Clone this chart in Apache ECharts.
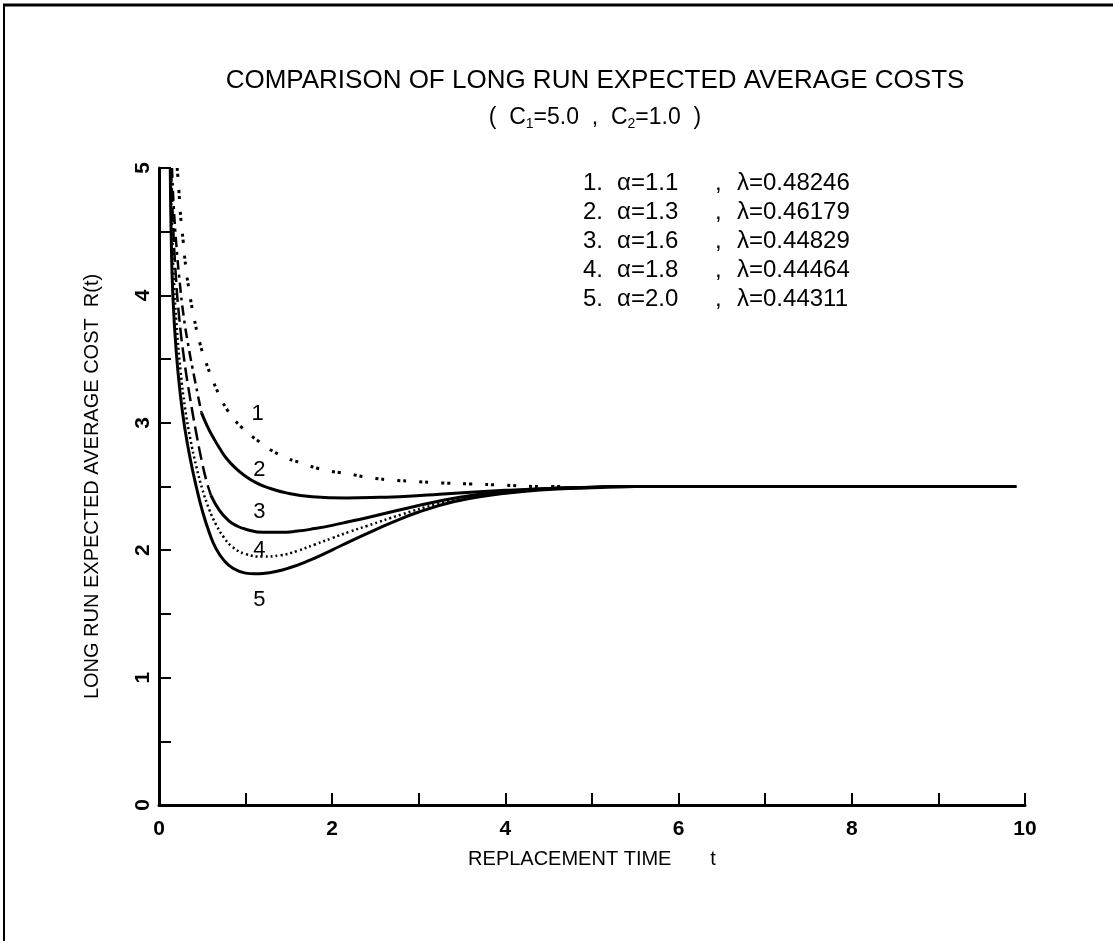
<!DOCTYPE html>
<html>
<head>
<meta charset="utf-8">
<title>Comparison of long run expected average costs</title>
<script src="https://cdn.jsdelivr.net/npm/echarts@6/dist/echarts.min.js"></script>
<style>
  html, body { margin: 0; padding: 0; background: #fff; }
  #chart { width: 1113px; height: 941px; }
</style>
</head>
<body>
<div id="chart"></div>
<script>
// Curve identifiers and Weibull parameters shown in the key
const curveNames = ['1', '2', '3', '4', '5'];
const alphaValues = ['1.1', '1.3', '1.6', '1.8', '2.0'];
const lambdaValues = ['0.48246', '0.46179', '0.44829', '0.44464', '0.44311'];

// R(t) samples, [t, R]
const curve1 = [[0.21,5.0],[0.23,4.82],[0.25,4.62],[0.28,4.42],[0.31,4.22],[0.35,4.03],[0.40,3.84],[0.47,3.63],[0.56,3.44],[0.66,3.27],[0.78,3.11],[0.93,2.98],[1.16,2.85],[1.39,2.75],[1.66,2.68],[1.91,2.63],[2.18,2.60],[2.43,2.57],[2.70,2.55],[2.95,2.54],[3.20,2.53],[3.60,2.52],[4.00,2.51],[4.40,2.50],[4.70,2.50]];
const curve2Steep = [[0.15,5.0],[0.17,4.7],[0.20,4.4],[0.24,4.1],[0.28,3.86],[0.34,3.6],[0.41,3.35],[0.49,3.08]];
const curve2 = [[0.49,3.08],[0.56,2.97],[0.63,2.88],[0.70,2.80],[0.78,2.72],[0.89,2.64],[1.00,2.58],[1.12,2.53],[1.24,2.495],[1.47,2.45],[1.77,2.42],[2.16,2.41],[2.55,2.415],[2.93,2.425],[3.24,2.44],[3.60,2.455],[4.00,2.47],[4.50,2.485],[5.00,2.495],[5.50,2.5],[6.00,2.5],[7.00,2.5],[8.00,2.5],[9.00,2.5],[9.90,2.5]];
const curve3Steep = [[0.14,5.0],[0.16,4.6],[0.19,4.2],[0.23,3.85],[0.29,3.5],[0.36,3.19],[0.43,2.92],[0.50,2.68],[0.55,2.54],[0.60,2.43]];
const curve3 = [[0.60,2.43],[0.70,2.31],[0.80,2.235],[0.90,2.19],[1.00,2.165],[1.20,2.14],[1.40,2.14],[1.60,2.15],[1.80,2.17],[2.00,2.195],[2.20,2.225],[2.40,2.255],[2.80,2.32],[3.20,2.38],[3.60,2.43],[4.00,2.46],[4.50,2.485],[5.00,2.495],[5.50,2.5],[6.00,2.5],[9.90,2.5]];
const curve4 = [[0.13,5.0],[0.15,4.55],[0.17,4.15],[0.20,3.8],[0.25,3.4],[0.30,3.12],[0.36,2.88],[0.43,2.66],[0.50,2.48],[0.58,2.32],[0.66,2.2],[0.75,2.1],[0.85,2.025],[1.00,1.97],[1.20,1.95],[1.40,1.96],[1.60,1.995],[1.80,2.045],[2.00,2.095],[2.20,2.145],[2.40,2.19],[2.80,2.28],[3.20,2.36],[3.60,2.42],[4.00,2.46],[4.50,2.48],[5.00,2.49]];
const curve5 = [[0.13,5.0],[0.14,4.5],[0.16,4.0],[0.20,3.55],[0.25,3.2],[0.30,2.95],[0.36,2.72],[0.43,2.5],[0.50,2.31],[0.58,2.14],[0.66,2.01],[0.75,1.92],[0.85,1.86],[1.00,1.82],[1.10,1.815],[1.20,1.818],[1.35,1.833],[1.50,1.86],[1.70,1.91],[1.90,1.97],[2.10,2.035],[2.40,2.13],[2.70,2.22],[3.00,2.30],[3.40,2.38],[3.80,2.43],[4.20,2.46],[4.60,2.48],[5.00,2.49],[5.50,2.5],[6.00,2.5],[9.90,2.5]];

// Where each curve number is written, [t, R]
const curveTagAt = [[1.14,3.07],[1.16,2.63],[1.16,2.30],[1.16,2.00],[1.16,1.61]];

// Axis tick labels
const xTickLabels = ['0', '2', '4', '6', '8', '10'];
const yTickLabels = ['0', '1', '2', '3', '4', '5'];

const FONT = '"Liberation Sans", Arial, sans-serif';
const INK = '#000';

function curve(data, width, type) {
  return {
    type: 'line',
    data: data,
    showSymbol: false,
    symbol: 'none',
    smooth: 0.5,
    silent: true,
    animation: false,
    lineStyle: { color: INK, width: width, type: type, cap: 'butt', join: 'round' }
  };
}

const keyLines = curveNames.map(function (n, i) {
  return {
    type: 'text',
    left: 583,
    top: 171 + i * 29,
    style: {
      text: '{n|' + n + '.}{a|\u03b1=' + alphaValues[i] + '}{c|,}{l|\u03bb=' + lambdaValues[i] + '}',
      font: '24px ' + FONT,
      fill: INK,
      rich: {
        n: { width: 34, fontSize: 24, fontFamily: FONT, fill: INK },
        a: { width: 98, fontSize: 24, fontFamily: FONT, fill: INK },
        c: { width: 22, fontSize: 24, fontFamily: FONT, fill: INK },
        l: { fontSize: 24, fontFamily: FONT, fill: INK }
      }
    }
  };
});

const chart = echarts.init(document.getElementById('chart'), null, { renderer: 'canvas' });

chart.setOption({
  backgroundColor: '#fff',
  animation: false,
  title: [
    {
      text: 'COMPARISON OF LONG RUN EXPECTED AVERAGE COSTS',
      left: 590,
      top: 63,
      textAlign: 'center',
      textStyle: { fontFamily: FONT, fontSize: 26, fontWeight: 'normal', color: INK }
    },
    {
      text: '{t|(  C}{s|1}{t|=5.0  ,  C}{s|2}{t|=1.0  )}',
      left: 590,
      top: 100,
      textAlign: 'center',
      textStyle: {
        fontFamily: FONT, fontSize: 23, fontWeight: 'normal', color: INK,
        rich: {
          t: { fontFamily: FONT, fontSize: 23, fontWeight: 'normal', color: INK },
          s: { fontFamily: FONT, fontSize: 14, fontWeight: 'normal', color: INK, padding: [12, 0, 0, 0] }
        }
      }
    }
  ],
  grid: { left: 159, right: 88, top: 168, bottom: 136, containLabel: false },
  xAxis: {
    type: 'value',
    min: 0,
    max: 10,
    interval: 1,
    name: 'REPLACEMENT TIME       t',
    nameLocation: 'middle',
    nameGap: 44,
    nameTextStyle: { fontFamily: FONT, fontSize: 20, color: INK },
    axisLine: { lineStyle: { color: INK, width: 3 } },
    axisTick: { inside: true, length: 12, lineStyle: { color: INK, width: 2 } },
    splitLine: { show: false },
    axisLabel: {
      margin: 14,
      fontFamily: FONT,
      fontSize: 21,
      fontWeight: 'bold',
      color: INK,
      formatter: function (v) { return v % 2 === 0 ? xTickLabels[v / 2] : ''; }
    }
  },
  yAxis: {
    type: 'value',
    min: 0,
    max: 5,
    interval: 0.5,
    name: 'LONG RUN EXPECTED AVERAGE COST  R(t)',
    nameLocation: 'middle',
    nameGap: 57,
    nameRotate: 90,
    nameTextStyle: { fontFamily: FONT, fontSize: 20, color: INK },
    axisLine: { lineStyle: { color: INK, width: 3 } },
    axisTick: { inside: true, length: 12, lineStyle: { color: INK, width: 2 } },
    splitLine: { show: false },
    axisLabel: {
      rotate: 90,
      margin: 5,
      fontFamily: FONT,
      fontSize: 21,
      fontWeight: 'bold',
      color: INK,
      formatter: function (v) { return v % 1 === 0 ? yTickLabels[v] : ''; }
    }
  },
  series: [
    curve(curve1, 3, [3, 3, 3, 13]),
    curve(curve2Steep, 2.5, [10, 5, 3, 5]),
    curve(curve2, 3, 'solid'),
    curve(curve3Steep, 2.5, [14, 6]),
    curve(curve3, 3, 'solid'),
    curve(curve4, 2.5, [2, 3]),
    curve(curve5, 3, 'solid'),
    {
      type: 'scatter',
      data: curveTagAt,
      symbolSize: 0,
      silent: true,
      animation: false,
      itemStyle: { opacity: 1, color: INK },
      label: {
        show: true,
        position: 'inside',
        fontFamily: FONT,
        fontSize: 22,
        color: INK,
        opacity: 1,
        textBorderWidth: 0,
        formatter: function (p) { return curveNames[p.dataIndex]; }
      }
    }
  ],
  graphic: [
    { type: 'line', shape: { x1: 3, y1: 5, x2: 1113, y2: 5 }, style: { stroke: INK, lineWidth: 3 } },
    { type: 'line', shape: { x1: 4, y1: 5, x2: 4, y2: 941 }, style: { stroke: INK, lineWidth: 2 } }
  ].concat(keyLines)
});
</script>
</body>
</html>
